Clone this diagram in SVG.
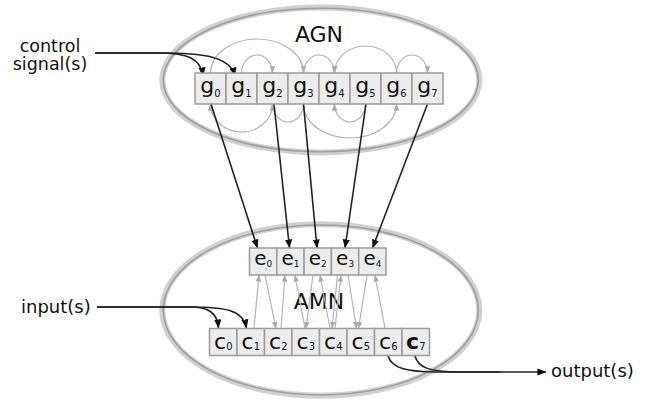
<svg xmlns="http://www.w3.org/2000/svg" width="647" height="403" viewBox="0 0 647 403">
<style>
.t{font-family:"DejaVu Sans",Verdana,sans-serif;fill:#111}
.lbl{font-size:18px}
.lbl2{font-size:17.5px}
.big{font-size:22px;text-anchor:middle}
.box{fill:#ececec;stroke:#9a9a9a;stroke-width:1.5}
.g{font-size:22px;text-anchor:middle}
.e{font-size:20px;text-anchor:middle}
.c{font-size:22px;text-anchor:middle}
.s{font-size:10px}
.se{font-size:9px}
.ring{fill:none;stroke:#d0d0d0;stroke-width:6}
.ringin{fill:none;stroke:#9e9e9e;stroke-width:1.6}
.blk{fill:none;stroke:#222;stroke-width:1.6;marker-end:url(#ab)}
.blkn{fill:none;stroke:#222;stroke-width:1.6}
.gry{fill:none;stroke:#b3b3b3;stroke-width:1.2;marker-end:url(#ag)}
</style>
<defs>
<marker id="ab" viewBox="0 0 10 8" refX="9.5" refY="4" markerWidth="9" markerHeight="7.5" markerUnits="userSpaceOnUse" orient="auto"><path d="M0,0 L10,4 L0,8 z" fill="#111"/></marker>
<marker id="ag" viewBox="0 0 10 8" refX="9.5" refY="4" markerWidth="7" markerHeight="6" markerUnits="userSpaceOnUse" orient="auto"><path d="M0,0 L10,4 L0,8 z" fill="#aaa"/></marker>
</defs>
<rect width="647" height="403" fill="#fff"/>

<g id="AGN">
<ellipse class="ring" cx="320.8" cy="80" rx="158.5" ry="72.5"/>
<ellipse class="ringin" cx="320.8" cy="80" rx="157.5" ry="71.7"/>
<text class="t big" x="319" y="42">AGN</text>
</g>
<g id="AMN">
<ellipse class="ring" cx="320.8" cy="310" rx="158.5" ry="85.8"/>
<ellipse class="ringin" cx="320.8" cy="310" rx="157.5" ry="85"/>
<text class="t big" x="319" y="309">AMN</text>
</g>

<g id="labels">
<text class="t lbl2" x="50" y="52" text-anchor="middle">control</text>
<text class="t lbl2" x="50" y="70" text-anchor="middle">signal(s)</text>
<text class="t lbl" x="21" y="313">input(s)</text>
<text class="t lbl" x="551" y="377">output(s)</text>
</g>

<g id="connectors">
<path class="gry" d="M210.5,73 A46.5,34 0 0 1 303.5,73"/>
<path class="gry" d="M241.5,73 A15.5,18 0 0 1 272.5,73"/>
<path class="gry" d="M303.5,73 A15.5,18 0 0 1 334.5,73"/>
<path class="gry" d="M396.5,73 A31,27 0 0 0 334.5,73"/>
<path class="gry" d="M396.5,73 A15.5,18 0 0 1 427.5,73"/>
<path class="gry" d="M303.5,104 A15.5,18 0 0 1 272.5,104"/>
<path class="gry" d="M272.5,104 A31,28 0 0 1 210.5,104"/>
<path class="gry" d="M303.5,104 A46.5,34 0 0 0 396.5,104"/>
<path class="gry" d="M365.5,104 A15.5,18 0 0 1 334.5,104"/>
<path class="gry" d="M254,328.5 L259,275"/>
<path class="gry" d="M265,275 L276,328.5"/>
<path class="gry" d="M281,328.5 L285,275"/>
<path class="gry" d="M305,328.5 L295,275"/>
<path class="gry" d="M313,275 L306,328.5"/>
<path class="gry" d="M330,328.5 L320,275"/>
<path class="gry" d="M337.5,275 L332,328.5"/>
<path class="gry" d="M335,328.5 L341,275"/>
<path class="gry" d="M348,275 L356.5,328.5"/>
<path class="gry" d="M367,275 L358.5,328.5"/>
<path class="gry" d="M385,328.5 L375,275"/>
<path class="blk" d="M211,104 L257.5,248"/>
<path class="blk" d="M274,104 L289.5,248"/>
<path class="blk" d="M303.5,104 L317,248"/>
<path class="blk" d="M366,104 L345,248"/>
<path class="blk" d="M427.5,104 L372.5,248"/>
<path class="blk" d="M95,53 L160,53 C186,53 201,58 203,76"/>
<path class="blk" d="M95,53 L160,53 C202,53 230,56 235,76"/>
<path class="blk" d="M97,307 L190,307 C208,307 217,312 218.5,328"/>
<path class="blk" d="M97,307 L190,307 C226,307 243,310 246.5,328"/>
<path class="blkn" d="M388,356 C392,368 405,372 440,372 L500,372"/>
<path class="blk" d="M415,356 C418,367 428,372 460,372 L546,372"/>
</g>

<g id="g0"><rect class="box" x="195" y="73" width="31" height="31"/><text class="t g" x="210.5" y="93">g<tspan class="s" dy="4">0</tspan></text></g>
<g id="g1"><rect class="box" x="226" y="73" width="31" height="31"/><text class="t g" x="241.5" y="93">g<tspan class="s" dy="4">1</tspan></text></g>
<g id="g2"><rect class="box" x="257" y="73" width="31" height="31"/><text class="t g" x="272.5" y="93">g<tspan class="s" dy="4">2</tspan></text></g>
<g id="g3"><rect class="box" x="288" y="73" width="31" height="31"/><text class="t g" x="303.5" y="93">g<tspan class="s" dy="4">3</tspan></text></g>
<g id="g4"><rect class="box" x="319" y="73" width="31" height="31"/><text class="t g" x="334.5" y="93">g<tspan class="s" dy="4">4</tspan></text></g>
<g id="g5"><rect class="box" x="350" y="73" width="31" height="31"/><text class="t g" x="365.5" y="93">g<tspan class="s" dy="4">5</tspan></text></g>
<g id="g6"><rect class="box" x="381" y="73" width="31" height="31"/><text class="t g" x="396.5" y="93">g<tspan class="s" dy="4">6</tspan></text></g>
<g id="g7"><rect class="box" x="412" y="73" width="31" height="31"/><text class="t g" x="427.5" y="93">g<tspan class="s" dy="4">7</tspan></text></g>

<g id="e0"><rect class="box" x="249.5" y="248" width="27.3" height="27"/><text class="t e" x="263.2" y="265">e<tspan class="se" dy="2">0</tspan></text></g>
<g id="e1"><rect class="box" x="276.8" y="248" width="27.3" height="27"/><text class="t e" x="290.5" y="265">e<tspan class="se" dy="2">1</tspan></text></g>
<g id="e2"><rect class="box" x="304.1" y="248" width="27.3" height="27"/><text class="t e" x="317.8" y="265">e<tspan class="se" dy="2">2</tspan></text></g>
<g id="e3"><rect class="box" x="331.4" y="248" width="27.3" height="27"/><text class="t e" x="345.1" y="265">e<tspan class="se" dy="2">3</tspan></text></g>
<g id="e4"><rect class="box" x="358.7" y="248" width="27.3" height="27"/><text class="t e" x="372.4" y="265">e<tspan class="se" dy="2">4</tspan></text></g>

<g id="c0"><rect class="box" x="209.5" y="328.5" width="27.5" height="27"/><text class="t c" x="223.3" y="349">c<tspan class="s" dy="1">0</tspan></text></g>
<g id="c1"><rect class="box" x="237" y="328.5" width="27.5" height="27"/><text class="t c" x="250.8" y="349">c<tspan class="s" dy="1">1</tspan></text></g>
<g id="c2"><rect class="box" x="264.5" y="328.5" width="27.5" height="27"/><text class="t c" x="278.3" y="349">c<tspan class="s" dy="1">2</tspan></text></g>
<g id="c3"><rect class="box" x="292" y="328.5" width="27.5" height="27"/><text class="t c" x="305.8" y="349">c<tspan class="s" dy="1">3</tspan></text></g>
<g id="c4"><rect class="box" x="319.5" y="328.5" width="27.5" height="27"/><text class="t c" x="333.3" y="349">c<tspan class="s" dy="1">4</tspan></text></g>
<g id="c5"><rect class="box" x="347" y="328.5" width="27.5" height="27"/><text class="t c" x="360.8" y="349">c<tspan class="s" dy="1">5</tspan></text></g>
<g id="c6"><rect class="box" x="374.5" y="328.5" width="27.5" height="27"/><text class="t c" x="388.3" y="349">c<tspan class="s" dy="1">6</tspan></text></g>
<g id="c7"><rect class="box" x="402" y="328.5" width="27.5" height="27"/><text class="t c" x="415.8" y="349" font-weight="bold">c<tspan class="s" dy="1" font-weight="normal">7</tspan></text></g>
</svg>
